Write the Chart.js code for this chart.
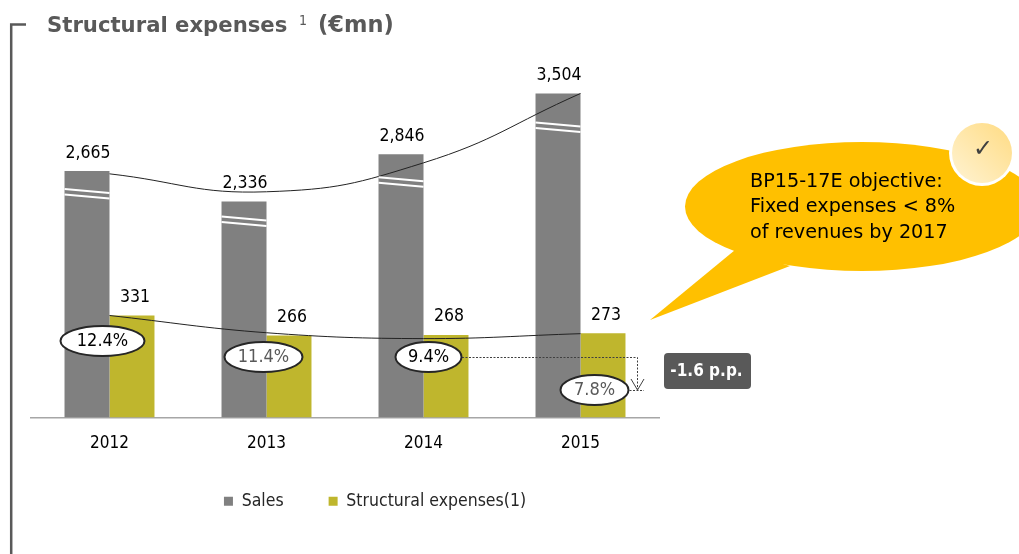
<!DOCTYPE html>
<html><head><meta charset="utf-8">
<style>html,body{margin:0;padding:0;background:#fff}#w{position:relative;width:1019px;height:554px;overflow:hidden}</style>
<script src="https://cdn.jsdelivr.net/npm/chart.js@4/dist/chart.umd.min.js"></script>
</head><body><div id="w"><canvas id="c" width="1019" height="554"></canvas></div>
<script>
const categories = ['2012', '2013', '2014', '2015'];
const salesValues = [2665, 2336, 2846, 3504];
const structuralValues = [331, 266, 268, 273];
const salesTrend = [2635, 2441, 2754, 3504];
const structuralTrend = [331, 275, 256, 272];
const ratioLabels = ['12.4%', '11.4%', '9.4%', '7.8%'];
const calloutLines = ['BP15-17E objective:', 'Fixed expenses < 8%', 'of revenues by 2017'];
const changeLabel = '-1.6 p.p.';

const FONT = '"DejaVu Sans Condensed","DejaVu Sans",sans-serif';
const GREY = '#808080', OLIVE = '#BFB62D', DARK = '#595959';
const bubbleStyle = [
  {dx: -7, y: 341, rx: 42, color: '#000'},
  {dx: -3, y: 357, rx: 39, color: '#595959'},
  {dx: 5,  y: 357, rx: 33, color: '#000'},
  {dx: 14, y: 390, rx: 34, color: '#595959'}
];
const breakOffsets = [18, 15, 23, 29];

const annotations = {
  id: 'annotations',
  afterLayout(chart) {
    const l = chart.legend;
    l.left += 30; l.right += 30;
    l.top -= 34; l.bottom -= 34;
  },
  beforeDatasetsDraw(chart) {
    const c = chart.ctx;
    c.save();
    // frame
    c.strokeStyle = DARK; c.lineWidth = 2.5;
    c.beginPath(); c.moveTo(26, 24.5); c.lineTo(11.2, 24.5); c.lineTo(11.2, 554); c.stroke();
    // title
    c.fillStyle = DARK; c.textBaseline = 'middle'; c.textAlign = 'left';
    c.font = 'bold 21.2px "DejaVu Sans"';
    c.fillText('Structural expenses', 47, 26);
    c.font = 'bold 22.5px "DejaVu Sans"';
    c.fillText('(€mn)', 318, 26);
    c.font = '14px ' + FONT; c.fillText('1', 299, 21);
    // callout
    c.fillStyle = '#FFC000';
    c.beginPath(); c.ellipse(862, 206.5, 177, 64.5, 0, 0, Math.PI * 2); c.fill();
    c.beginPath(); c.moveTo(735, 250); c.lineTo(650, 320); c.lineTo(790, 266); c.closePath(); c.fill();
    c.fillStyle = '#000'; c.font = '19.2px "DejaVu Sans"'; c.textBaseline = 'middle';
    calloutLines.forEach((l, i) => c.fillText(l, 750, 182 + i * 25.5));
    // check badge
    c.fillStyle = '#fff'; c.beginPath(); c.arc(982, 153, 33, 0, Math.PI * 2); c.fill();
    const g = c.createLinearGradient(955, 180, 1010, 125);
    g.addColorStop(0, '#FFF2CF'); g.addColorStop(1, '#FFDC85');
    c.fillStyle = g; c.beginPath(); c.arc(982, 153, 30, 0, Math.PI * 2); c.fill();
    c.fillStyle = '#404040'; c.font = '24px "DejaVu Sans"'; c.textAlign = 'center';
    c.fillText('✓', 983, 150);
    // change badge
    c.fillStyle = DARK;
    c.beginPath(); c.roundRect(664, 353, 87, 36, 4); c.fill();
    c.fillStyle = '#fff'; c.font = 'bold 17px ' + FONT;
    c.fillText(changeLabel, 706.5, 372);
    c.restore();
  },
  afterDatasetsDraw(chart) {
    const c = chart.ctx, xs = chart.scales.x;
    const salesMeta = chart.getDatasetMeta(2), structMeta = chart.getDatasetMeta(3);
    c.save();
    // axis-break marks on the sales bars
    c.strokeStyle = '#fff'; c.lineWidth = 2;
    salesMeta.data.forEach((b, i) => {
      const l = b.x - b.width / 2, r = b.x + b.width / 2, y = b.y + breakOffsets[i];
      [0, 5.5].forEach(d => { c.beginPath(); c.moveTo(l, y + d); c.lineTo(r, y + d + 4); c.stroke(); });
    });
    // dashed connector
    c.strokeStyle = '#404040'; c.lineWidth = 1; c.setLineDash([2, 1.5]);
    c.beginPath(); c.moveTo(462, 357.5); c.lineTo(637.5, 357.5); c.lineTo(637.5, 389); c.stroke();
    c.beginPath(); c.moveTo(626, 390.5); c.lineTo(644, 390.5); c.stroke();
    c.setLineDash([]);
    c.beginPath(); c.moveTo(631, 379); c.lineTo(637.5, 390); c.lineTo(644, 379); c.stroke();
    // value labels
    c.fillStyle = '#000'; c.font = '17.5px ' + FONT; c.textAlign = 'center'; c.textBaseline = 'middle';
    salesMeta.data.forEach((b, i) => c.fillText(salesValues[i].toLocaleString('en-US'), b.x + 1, b.y - 18));
    structMeta.data.forEach((b, i) => c.fillText(String(structuralValues[i]), b.x + 3, b.y - 18));
    // ratio bubbles
    ratioLabels.forEach((txt, i) => {
      const s = bubbleStyle[i], x = xs.getPixelForValue(i) + s.dx;
      c.fillStyle = '#fff'; c.strokeStyle = '#262626'; c.lineWidth = 2;
      c.beginPath(); c.ellipse(x, s.y, s.rx, 15, 0, 0, Math.PI * 2); c.fill(); c.stroke();
      c.fillStyle = s.color; c.font = '18px ' + FONT; c.fillText(txt, x, s.y);
    });
    c.restore();
  }
};

new Chart(document.getElementById('c'), {
  data: {
    labels: categories,
    datasets: [
      {type: 'line', label: 'Sales trend', data: salesTrend, yAxisID: 'y', borderColor: '#222', borderWidth: 1, pointRadius: 0, tension: 0.45, fill: false},
      {type: 'line', label: 'Structural trend', data: structuralTrend, yAxisID: 'y2', borderColor: '#222', borderWidth: 1, pointRadius: 0, tension: 0.4, fill: false},
      {type: 'bar', label: 'Sales', data: salesValues, yAxisID: 'y', backgroundColor: GREY, borderWidth: 0, barPercentage: 1, categoryPercentage: 0.573},
      {type: 'bar', label: 'Structural expenses(1)', data: structuralValues, yAxisID: 'y2', backgroundColor: OLIVE, borderWidth: 0, barPercentage: 1, categoryPercentage: 0.573}
    ]
  },
  options: {
    responsive: false, animation: false, events: [],
    layout: {padding: {left: 31, right: 360, top: 60, bottom: 0}},
    scales: {
      x: {
        grid: {display: false, drawTicks: false},
        border: {color: '#A6A6A6', width: 1.5},
        ticks: {color: '#000', font: {family: FONT, size: 17}, padding: 16, maxRotation: 0},
        afterFit(s) { s.height = 64; }
      },
      y: {display: false, min: 0, max: 3866},
      y2: {display: false, min: 0, max: 1160}
    },
    plugins: {
      title: {display: false}, tooltip: {enabled: false},
      legend: {
        position: 'bottom', align: 'center',
        labels: {
          color: '#262626', boxWidth: 9, boxHeight: 9, padding: 45,
          font: {family: FONT, size: 17.5},
          filter: item => item.text === 'Sales' || item.text === 'Structural expenses(1)'
        }
      }
    }
  },
  plugins: [annotations]
});
</script></body></html>
